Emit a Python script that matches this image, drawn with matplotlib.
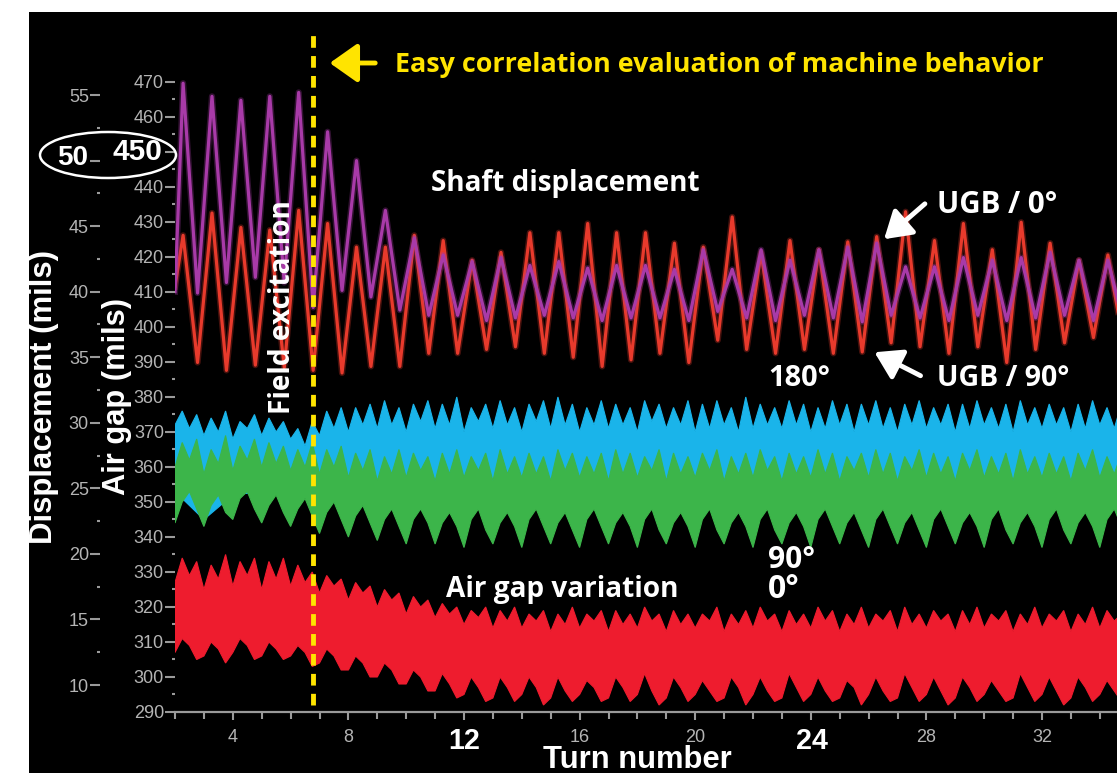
import numpy as np
import matplotlib
matplotlib.use('Agg')
import matplotlib.pyplot as plt
from matplotlib.patches import Rectangle, Ellipse, FancyArrowPatch
from matplotlib import font_manager

# ---------------- data ----------------
# Shaft displacement (mils, displacement axis): one peak and one trough per turn
ugb0_start = 40.0
ugb0_peaks = [55.9, 54.9, 54.6, 54.9, 55.2, 52.2, 50.0, 46.2, 44.1, 42.8, 42.3, 42.6, 42.0,
              42.3, 41.8, 42.0, 42.0, 41.7, 43.2, 41.7, 43.2, 42.4, 43.2, 43.4, 43.7, 41.9,
              41.9, 42.6, 42.4, 42.6, 43.0, 42.4, 42.4]
ugb0_troughs = [39.9, 40.7, 41.1, 40.7, 38.8, 40.1, 39.6, 38.6, 38.2, 38.2, 37.8, 38.0, 38.2,
                38.0, 37.8, 38.0, 38.0, 37.8, 38.5, 38.0, 37.8, 38.2, 38.0, 37.7, 38.2, 38.0,
                37.8, 38.2, 37.8, 38.0, 38.2, 37.8, 38.0]
ugb90_start = 40.4
ugb90_peaks = [44.3, 46.0, 44.9, 44.7, 46.2, 45.2, 43.4, 43.4, 44.3, 43.9, 42.4, 43.0, 44.5,
               44.5, 45.2, 44.5, 44.5, 43.7, 43.4, 45.7, 43.0, 43.9, 43.2, 43.8, 44.2, 46.1,
               43.9, 45.2, 43.2, 45.3, 43.7, 42.4, 42.8]
ugb90_troughs = [34.6, 34.0, 34.4, 34.2, 34.0, 33.8, 34.3, 34.3, 35.3, 35.3, 35.6, 35.8, 35.3,
                 35.0, 34.3, 34.8, 35.3, 34.6, 36.3, 35.6, 35.3, 35.6, 35.3, 35.4, 36.1, 35.8,
                 35.3, 35.8, 34.6, 35.6, 36.1, 36.5, 36.6]

# Air gap (mils, air gap axis): band edges sampled every quarter turn from turn 2
gap180_top = [372, 376, 371, 375, 369, 374, 370, 376, 368, 373, 371, 375,
              369, 374, 370, 373, 368, 371, 366, 373, 369, 376, 371, 377,
              370, 377, 372, 378, 371, 379, 372, 377, 370, 378, 373, 379,
              371, 378, 372, 380, 370, 377, 373, 378, 371, 379, 372, 377,
              370, 378, 373, 379, 371, 380, 372, 378, 370, 377, 372, 379,
              371, 378, 372, 377, 370, 379, 373, 378, 371, 377, 372, 379,
              370, 378, 371, 379, 372, 377, 370, 380, 371, 378, 372, 377,
              371, 379, 372, 378, 370, 377, 371, 379, 372, 378, 370, 378,
              372, 379, 371, 377, 370, 378, 372, 379, 371, 377, 372, 378,
              370, 378, 371, 379, 372, 377, 371, 378, 370, 379, 372, 377,
              371, 378, 372, 377, 370, 378, 371, 379, 372, 377, 371, 378,
              372]
# hidden lower edge of the 180° band, one value per turn
gap180_bot = [353, 345, 352, 353, 352, 351, 353, 352, 353, 352, 351, 353, 352, 353, 352,
              351, 353, 352, 353, 352, 351, 353, 352, 353, 352, 351, 353, 352, 353, 352,
              351, 353, 352, 353]
gap90_top = [360, 367, 362, 368, 358, 365, 361, 369, 359, 366, 362, 368,
             360, 367, 361, 366, 359, 365, 360, 367, 358, 365, 360, 366,
             357, 364, 359, 365, 356, 363, 358, 365, 357, 364, 359, 363,
             356, 364, 358, 365, 357, 363, 359, 364, 356, 365, 358, 363,
             357, 364, 358, 363, 356, 365, 359, 364, 357, 363, 358, 364,
             356, 365, 358, 364, 357, 363, 359, 365, 356, 364, 358, 363,
             357, 364, 359, 365, 356, 363, 358, 364, 357, 365, 359, 363,
             356, 364, 358, 363, 357, 365, 358, 364, 356, 363, 359, 364,
             357, 365, 358, 364, 356, 363, 359, 365, 357, 364, 358, 363,
             356, 364, 359, 365, 357, 363, 358, 364, 356, 365, 358, 363,
             357, 364, 358, 363, 356, 364, 359, 365, 357, 363, 358, 364,
             357]
gap90_bot = [344, 350, 353, 348, 343, 349, 352, 347, 345, 351, 353, 348,
             344, 349, 352, 347, 343, 348, 351, 346, 341, 347, 350, 345,
             340, 346, 349, 344, 339, 345, 348, 343, 338, 345, 348, 344,
             338, 344, 347, 343, 337, 345, 348, 342, 338, 344, 347, 343,
             337, 345, 348, 343, 338, 344, 347, 342, 337, 345, 348, 343,
             338, 344, 347, 343, 337, 345, 348, 342, 338, 344, 347, 343,
             337, 345, 348, 342, 338, 344, 347, 343, 337, 345, 348, 342,
             338, 344, 347, 343, 337, 345, 348, 343, 338, 344, 347, 342,
             337, 345, 348, 343, 338, 344, 347, 342, 337, 345, 348, 343,
             338, 344, 347, 343, 337, 345, 348, 342, 338, 344, 347, 343,
             337, 345, 348, 342, 338, 344, 347, 343, 337, 345, 348, 343,
             338]
gap0_top = [327, 334, 329, 333, 325, 332, 328, 335, 326, 333, 329, 334,
            325, 333, 328, 334, 326, 332, 327, 330, 324, 329, 326, 328,
            322, 327, 324, 326, 320, 325, 322, 324, 318, 323, 320, 322,
            317, 321, 318, 320, 315, 319, 317, 320, 314, 319, 316, 320,
            314, 318, 316, 319, 313, 318, 315, 320, 314, 318, 316, 319,
            313, 319, 315, 318, 314, 320, 316, 318, 313, 319, 315, 318,
            314, 318, 316, 320, 313, 318, 315, 319, 314, 320, 316, 318,
            313, 319, 315, 318, 314, 320, 316, 319, 313, 318, 315, 320,
            314, 318, 316, 319, 313, 320, 315, 318, 314, 319, 316, 318,
            313, 319, 315, 320, 314, 318, 316, 319, 313, 318, 315, 320,
            314, 318, 316, 319, 313, 318, 315, 320, 314, 319, 316, 318,
            314]
gap0_bot = [307, 311, 309, 305, 306, 310, 308, 304, 307, 311, 309, 305,
            306, 310, 308, 305, 306, 309, 307, 303, 304, 308, 306, 302,
            302, 306, 304, 300, 300, 304, 302, 298, 298, 302, 300, 296,
            296, 301, 298, 294, 295, 300, 297, 293, 294, 300, 297, 293,
            295, 300, 297, 292, 294, 300, 296, 293, 295, 299, 297, 293,
            294, 300, 297, 293, 295, 301, 296, 292, 294, 300, 297, 293,
            295, 299, 296, 293, 294, 300, 297, 292, 295, 300, 296, 293,
            294, 301, 297, 293, 295, 300, 296, 293, 294, 299, 297, 292,
            295, 300, 296, 293, 294, 301, 297, 293, 295, 300, 296, 292,
            294, 300, 297, 293, 295, 299, 296, 293, 294, 301, 297, 293,
            295, 300, 296, 292, 294, 300, 297, 293, 295, 299, 296, 293,
            295]

field_excitation_turn = 6.78
turn_ticks = [4, 8, 12, 16, 20, 24, 28, 32]
turn_ticklabels = ['4', '8', '', '16', '20', '', '28', '32']
gap_ticks = list(range(290, 471, 10))
disp_ticks = list(range(10, 56, 5))

# ---------------- helpers ----------------
W, H = 1117, 773
fig = plt.figure(figsize=(W / 100, H / 100), dpi=100, facecolor='white')


def fx(x):
    return x / W


def fy(y):
    return 1 - y / H


def has_font(name):
    try:
        font_manager.findfont(font_manager.FontProperties(family=name), fallback_to_default=False)
        return True
    except Exception:
        return False


NARROW = 'Liberation Sans Narrow' if has_font('Liberation Sans Narrow') else 'Liberation Sans'
ARIAL = 'Liberation Sans'
HUMAN = 'Open Sans' if has_font('Open Sans') else 'DejaVu Sans'

YELLOW = '#ffe400'
GRAY = '#b4b4b4'
TICKC = '#9a9a9a'

fig.patches.append(Rectangle((fx(29), 0), 1 - fx(29), fy(12), transform=fig.transFigure,
                             facecolor='black', edgecolor='none', zorder=-10))

# axes geometry (pixels): left 175, bottom 712, top 75
ax = fig.add_axes([fx(175), fy(712), 1 - fx(175), fy(75) - fy(712)])
ax.set_facecolor('black')
x_right = 2 + (W - 175) / 28.9
ax.set_xlim(2, x_right)
ax.set_ylim(290, 290 + (712 - 75) / 3.5)

# displacement axis (same pixels): d=10 at y=685, 13.11 px per mil
ax2 = ax.twinx()
ax2.set_ylim(10 + (685 - 712) / 13.11, 10 + (685 - 75) / 13.11)

for a in (ax, ax2):
    for s in a.spines.values():
        s.set_visible(False)
ax.spines['bottom'].set_visible(True)
ax.spines['bottom'].set_color(TICKC)
ax.spines['bottom'].set_linewidth(1.6)

TICKFONT = dict(fontfamily=NARROW, fontsize=13, color=GRAY)

# x ticks
ax.set_xticks(turn_ticks)
ax.set_xticklabels(turn_ticklabels, **TICKFONT)
ax.set_xticks(np.arange(2, 35, 1), minor=True)
ax.tick_params(axis='x', which='major', direction='out', length=6, width=1.5, colors=TICKC, pad=6)
ax.tick_params(axis='x', which='minor', direction='out', length=5, width=1.5, colors=TICKC)
for lab in ax.get_xticklabels():
    lab.set_color(GRAY)

# air gap y ticks
ax.set_yticks(gap_ticks)
ax.set_yticklabels([('' if v == 450 else str(v)) for v in gap_ticks], **TICKFONT)
ax.set_yticks(np.arange(295, 471, 10), minor=True)
ax.tick_params(axis='y', which='major', direction='out', length=7, width=1.5, colors=TICKC, pad=1)
ax.tick_params(axis='y', which='minor', direction='out', length=2.5, width=1.5, colors=TICKC)
for lab in ax.get_yticklabels():
    lab.set_color(GRAY)

# displacement y ticks on the left, offset
ax2.yaxis.tick_left()
ax2.spines['left'].set_position(('outward', 75 * 0.72))
ax2.set_yticks(disp_ticks)
ax2.set_yticklabels([('' if v == 50 else str(v)) for v in disp_ticks], **TICKFONT)
ax2.set_yticks(np.arange(12.5, 56, 5), minor=True)
ax2.tick_params(axis='y', which='major', direction='out', length=7, width=1.5, colors=TICKC, pad=1)
ax2.tick_params(axis='y', which='minor', direction='out', length=2.5, width=1.5, colors=TICKC)
ax2.tick_params(axis='y', which='both', right=False, labelright=False)
for lab in ax2.get_yticklabels():
    lab.set_color(GRAY)

# ---------------- air gap bands ----------------
t_q = 2.0 + 0.25 * np.arange(len(gap90_top))
t_turn = 2.0 + np.arange(len(gap180_bot))


def band(t_top, top, t_bot, bot, color, z):
    xs = np.concatenate([t_top, np.asarray(t_bot)[::-1]])
    ys = np.concatenate([top, np.asarray(bot)[::-1]])
    ax.fill(xs, ys, color=color, lw=0.8, zorder=z)


band(t_q, gap180_top, t_turn, gap180_bot, '#1ab4ea', 2)
band(t_q, gap90_top, t_q, gap90_bot, '#3cb54a', 3)
band(t_q, gap0_top, t_q, gap0_bot, '#ee1c2e', 3)

# ---------------- shaft displacement ----------------
peak_t = 2.28 + np.arange(len(ugb0_peaks))
trough_t = peak_t + 0.5


def series(start, peaks, troughs):
    xs, ys = [2.0], [start]
    for pt, tt, pv, tv in zip(peak_t, trough_t, peaks, troughs):
        xs += [pt, tt]
        ys += [pv, tv]
    return xs, ys


x90, y90 = series(ugb90_start, ugb90_peaks, ugb90_troughs)
x0, y0 = series(ugb0_start, ugb0_peaks, ugb0_troughs)
ax2.plot(x90, y90, color='#e83a2c', lw=4.5, alpha=0.3, zorder=4, solid_joinstyle='round')
ax2.plot(x90, y90, color='#e83a2c', lw=2.3, zorder=4, solid_joinstyle='round')
ax2.plot(x0, y0, color='#a83aa8', lw=4.5, alpha=0.3, zorder=5, solid_joinstyle='round')
ax2.plot(x0, y0, color='#a83aa8', lw=2.3, zorder=5, solid_joinstyle='round')

# field excitation line
ax2.axvline(field_excitation_turn, ymin=(712 - 705) / 637, ymax=(712 - 32) / 637, clip_on=False,
            color=YELLOW, lw=3.5, dashes=(2.4, 1.7), zorder=6)

# ---------------- texts ----------------
renderer = fig.canvas.get_renderer()


def place(s, x0, x1, yc, family, color='white', weight='bold', size0=14):
    xc = (x0 + x1) / 2
    t = fig.text(fx(xc), fy(yc), s, ha='center', va='center',
                 fontsize=size0, fontweight=weight, color=color, fontfamily=family, zorder=10)
    bb = t.get_window_extent(renderer)
    t.set_fontsize(size0 * (x1 - x0) / bb.width)
    return t


place('Easy correlation evaluation of machine behavior', 393, 1045, 65, HUMAN, color=YELLOW)
place('Shaft displacement', 430, 700, 183, HUMAN)
place('UGB / 0°', 937, 1058, 205, HUMAN)
place('UGB / 90°', 937, 1070, 378, HUMAN)
place('180°', 768, 830, 378, HUMAN)
place('90°', 768, 815, 560, HUMAN)
place('0°', 768, 800, 590, HUMAN)
place('Air gap variation', 445, 680, 590, HUMAN)
place('50', 57, 88, 158, NARROW)
place('450', 112, 162, 152, ARIAL)
place('12', 448, 480, 741, ARIAL)
place('24', 796, 828, 741, ARIAL)
place('Turn number', 542, 732, 760, ARIAL)


def place_rot(s, xc, y_top, y_bot, family, size0=14):
    t = fig.text(fx(xc), fy((y_top + y_bot) / 2), s, ha='center', va='center', rotation=90,
                 fontsize=size0, fontweight='bold', color='white', fontfamily=family, zorder=10)
    bb = t.get_window_extent(renderer)
    t.set_fontsize(size0 * (y_bot - y_top) / bb.height)
    return t


place_rot('Displacement (mils)', 44, 250, 545, ARIAL)
place_rot('Air gap (mils)', 117, 297, 495, ARIAL)
place_rot('Field excitation', 283, 200, 415, HUMAN)

# ellipse around 50 / 450
fig.patches.append(Ellipse((fx(108), fy(155)), 136 / W, 46 / H, transform=fig.transFigure,
                           facecolor='none', edgecolor='white', lw=1.8, zorder=10))

# arrows
fig.patches.append(FancyArrowPatch((fx(378), fy(63)), (fx(327), fy(63)), transform=fig.transFigure,
                                   arrowstyle='-|>,head_length=0.85,head_width=0.6', mutation_scale=20,
                                   color=YELLOW, lw=3.5, zorder=10))
fig.patches.append(FancyArrowPatch((fx(927), fy(202)), (fx(882), fy(241)), transform=fig.transFigure,
                                   arrowstyle='-|>,head_length=0.8,head_width=0.5', mutation_scale=20,
                                   color='white', lw=3.5, zorder=10))
fig.patches.append(FancyArrowPatch((fx(923), fy(377)), (fx(872), fy(351)), transform=fig.transFigure,
                                   arrowstyle='-|>,head_length=0.8,head_width=0.5', mutation_scale=20,
                                   color='white', lw=3.5, zorder=10))

fig.savefig('out.png', dpi=100, facecolor='white')
